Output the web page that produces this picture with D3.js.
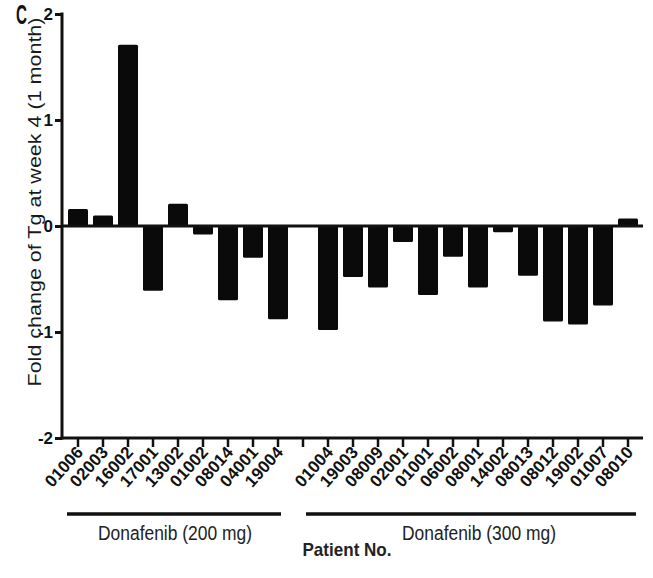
<!DOCTYPE html>
<html>
<head>
<meta charset="utf-8">
<script src="https://cdn.jsdelivr.net/npm/d3@7"></script>
<style>
  body { margin: 0; background: #fff; }
  svg { display: block; font-family: "Liberation Sans", Arial, sans-serif; }
</style>
</head>
<body>
<script>
// Patient numbers for each dose group
var ids200 = ["01006", "02003", "16002", "17001", "13002", "01002", "08014", "04001", "19004"];
var ids300 = ["01004", "19003", "08009", "02001", "01001", "06002", "08001", "14002", "08013", "08012", "19002", "01007", "08010"];

// Fold change of Tg at week 4
var values200 = [0.16, 0.10, 1.71, -0.61, 0.21, -0.08, -0.70, -0.30, -0.88];
var values300 = [-0.98, -0.48, -0.58, -0.15, -0.65, -0.29, -0.58, -0.06, -0.47, -0.90, -0.93, -0.75, 0.07];

var groupLabels = ["Donafenib (200 mg)", "Donafenib (300 mg)"];
var yTicks = [-2, -1, 0, 1, 2];

var width = 653;
var height = 578;

var svg = d3.select("body")
  .append("svg")
  .attr("width", width)
  .attr("height", height);

// one empty slot between the two groups, like the Prism layout
var domain = ids200.concat(["gap"]).concat(ids300);
var bars = [];
ids200.forEach(function(id, i) { bars.push({ id: id, value: values200[i] }); });
ids300.forEach(function(id, i) { bars.push({ id: id, value: values300[i] }); });

var x = d3.scaleBand()
  .domain(domain)
  .range([65.5, 640.5])
  .paddingInner(0)
  .paddingOuter(0);

var y = d3.scaleLinear()
  .domain([-2, 2])
  .range([438, 14]);

var axisLeftX = 62;
var axisRightX = 643;
var barW = x.bandwidth() * 0.8;

// Bars
svg.append("g")
  .selectAll("rect")
  .data(bars)
  .enter()
  .append("rect")
  .attr("x", function(d) { return x(d.id) + (x.bandwidth() - barW) / 2; })
  .attr("y", function(d) { return y(Math.max(0, d.value)); })
  .attr("width", barW)
  .attr("height", function(d) { return Math.abs(y(d.value) - y(0)); })
  .attr("rx", 1.5)
  .style("fill", "#0a0a0a");

// Zero line
svg.append("line")
  .attr("x1", axisLeftX).attr("x2", axisRightX)
  .attr("y1", y(0)).attr("y2", y(0))
  .style("stroke", "#111").style("stroke-width", 3);

// Y axis
var yAxis = d3.axisLeft(y)
  .tickValues(yTicks)
  .tickFormat(d3.format("d"))
  .tickSize(7)
  .tickSizeOuter(0)
  .tickPadding(2);

var gy = svg.append("g")
  .attr("transform", "translate(" + axisLeftX + ",0)")
  .call(yAxis);
gy.select(".domain").remove();
gy.selectAll(".tick line").style("stroke", "#111").style("stroke-width", 3);
gy.selectAll(".tick text")
  .style("font-size", "17px")
  .style("font-weight", "bold")
  .style("fill", "#111")
  .text(function(d) { return d < 0 ? "-" + Math.abs(d) : d; });

svg.append("line")
  .attr("x1", axisLeftX).attr("x2", axisLeftX)
  .attr("y1", y(2) - 1.5).attr("y2", y(-2) + 1.5)
  .style("stroke", "#111").style("stroke-width", 3);

// X axis
var xAxis = d3.axisBottom(x)
  .tickSize(9)
  .tickSizeOuter(0)
  .tickFormat(function(d) { return d == "gap" ? "" : d; });

var gx = svg.append("g")
  .attr("transform", "translate(0," + y(-2) + ")")
  .call(xAxis);
gx.select(".domain").remove();
gx.selectAll(".tick line").style("stroke", "#111").style("stroke-width", 2.5);
gx.selectAll(".tick text")
  .attr("x", 0).attr("y", 0).attr("dy", 0)
  .attr("text-anchor", "end")
  .attr("transform", "translate(6,15) rotate(-48)")
  .style("font-size", "17px")
  .style("font-weight", "bold")
  .style("fill", "#111");

svg.append("line")
  .attr("x1", axisLeftX - 1.5).attr("x2", axisRightX)
  .attr("y1", y(-2)).attr("y2", y(-2))
  .style("stroke", "#111").style("stroke-width", 3);

// Group brackets
var groups = [
  { label: groupLabels[0], x1: x(ids200[0]) + x.bandwidth() / 2 - 11, x2: x(ids200[ids200.length - 1]) + x.bandwidth() / 2 + 3, shift: 1 },
  { label: groupLabels[1], x1: x(ids300[0]) + x.bandwidth() / 2 - 22, x2: x(ids300[ids300.length - 1]) + x.bandwidth() / 2 + 8, shift: 8 }
];

svg.selectAll(".grp-line")
  .data(groups)
  .enter()
  .append("line")
  .attr("class", "grp-line")
  .attr("x1", function(d) { return d.x1; })
  .attr("x2", function(d) { return d.x2; })
  .attr("y1", 514).attr("y2", 514)
  .style("stroke", "#111").style("stroke-width", 3.5);

svg.selectAll(".grp-label")
  .data(groups)
  .enter()
  .append("text")
  .attr("class", "grp-label")
  .attr("x", function(d) { return (d.x1 + d.x2) / 2 + d.shift; })
  .attr("y", 540)
  .attr("text-anchor", "middle")
  .attr("textLength", 154)
  .attr("lengthAdjust", "spacingAndGlyphs")
  .style("font-size", "20px")
  .style("fill", "#222")
  .text(function(d) { return d.label; });

// Axis titles
svg.append("text")
  .attr("x", 347)
  .attr("y", 556)
  .attr("text-anchor", "middle")
  .attr("textLength", 89)
  .attr("lengthAdjust", "spacingAndGlyphs")
  .style("font-size", "19px")
  .style("font-weight", "bold")
  .style("fill", "#222")
  .text("Patient No.");

svg.append("text")
  .attr("transform", "translate(41,202) rotate(-90)")
  .attr("text-anchor", "middle")
  .attr("textLength", 369)
  .attr("lengthAdjust", "spacingAndGlyphs")
  .style("font-size", "18px")
  .style("fill", "#1a1a1a")
  .text("Fold change of Tg at week 4 (1 month)");

// Panel letter
svg.append("text")
  .attr("x", 16)
  .attr("y", 24)
  .attr("textLength", 11)
  .attr("lengthAdjust", "spacingAndGlyphs")
  .style("font-size", "27px")
  .style("font-weight", "bold")
  .style("fill", "#111")
  .text("C");
</script>
</body>
</html>
